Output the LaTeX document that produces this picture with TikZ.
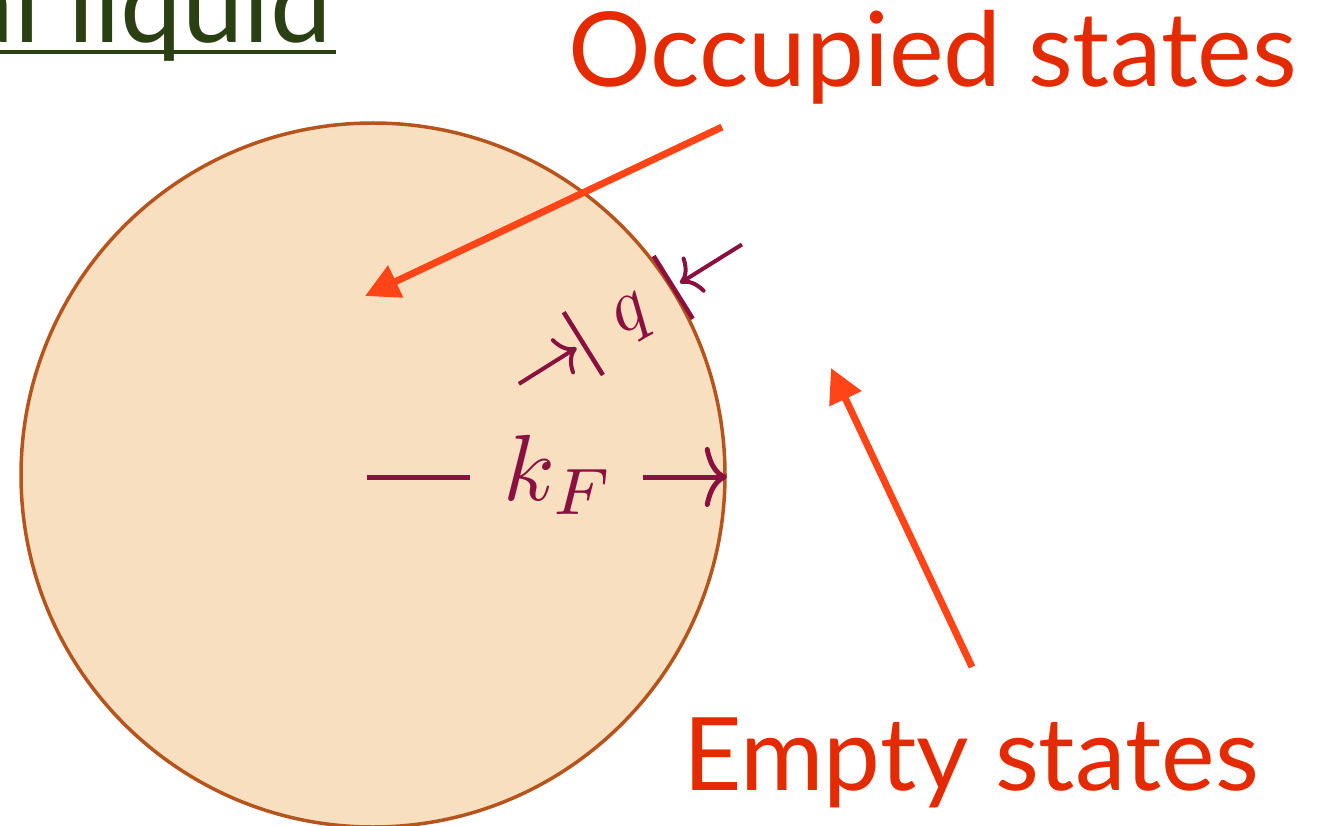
\documentclass[tikz,border=0pt]{standalone}
\usepackage{fontspec}
\setmainfont{Lato}
\usepackage{graphicx}
\usetikzlibrary{arrows.meta}
\definecolor{peach}{HTML}{F8DFBF}
\definecolor{rim}{HTML}{B5541C}
\definecolor{maroon}{HTML}{8A1040}
\definecolor{redarrow}{HTML}{FF4518}
\definecolor{redtext}{HTML}{E32A00}
\definecolor{titlegreen}{HTML}{2B4012}
\begin{document}
\begin{tikzpicture}[x=1pt,y=-1pt,
  bigtext/.style={text=redtext, inner sep=0pt},
  pointer/.style={draw=redarrow, line width=7pt, -{Triangle[length=34pt,width=34pt]}},
  dimline/.style={draw=maroon, line width=5pt},
  dimarrow/.style={draw=maroon, line width=5pt, -{To[length=22pt,width=60pt]}},
  qarrow/.style={draw=maroon, line width=4pt, -{To[length=18pt,width=42pt]}},
  qbar/.style={draw=maroon, line width=4.5pt}]
\useasboundingbox (0,0) rectangle (1319,826);
% Fermi sphere
\node[circle, fill=peach, draw=rim, line width=3.5pt, minimum size=704pt, inner sep=0pt] (fs) at (373,475) {};
% title fragment
\node[anchor=base east, font=\fontsize{110}{120}\selectfont, text=titlegreen, inner sep=0pt] (title) at (332,43) {al liquid};
\coordinate (ul) at (336,52);
\draw[titlegreen, line width=4pt] (title.base west |- ul) -- (ul);
% labels
\node[bigtext, anchor=base west, font=\fontsize{103.5}{110}\selectfont] (occ) at (568,87) {Occupied states};
\node[bigtext, anchor=base west, font=\fontsize{101.5}{110}\selectfont] (emp) at (683,790) {Empty states};
% pointers
\coordinate (o1) at (722,127); \coordinate (o2) at (365,296);
\draw[pointer] (o1) -- (o2);
\coordinate (e1) at (972,667); \coordinate (e2) at (831,368);
\draw[pointer] (e1) -- (e2);
% k_F
\coordinate (k1) at (367,477); \coordinate (k2) at (470,477); \coordinate (k3) at (643,477);
\draw[dimline] (k1) -- (k2);
\node[anchor=base west, inner sep=0pt, text=maroon] (kf) at (503,500) {\scalebox{9.4}{$k_F$}};
\draw[dimarrow] (k3) -- (fs.east |- k3);
% q
\coordinate (qa1) at (518.9,383.9); \coordinate (qa2) at (576.5,347.8);
\coordinate (qb1) at (563.7,312.2); \coordinate (qb2) at (602.9,375.0);
\coordinate (qc1) at (653.6,256.0); \coordinate (qc2) at (692.8,318.8);
\coordinate (qd1) at (741.9,244.5); \coordinate (qd2) at (680.0,283.1);
\draw[qarrow] (qa1) -- (qa2);
\draw[qbar] (qb1) -- (qb2);
\draw[qbar] (qc1) -- (qc2);
\draw[qarrow] (qd1) -- (qd2);
\node[inner sep=0pt, text=maroon, rotate=30] (q) at (634,319) {\scalebox{7.4}{$q$}};
\end{tikzpicture}
\end{document}
